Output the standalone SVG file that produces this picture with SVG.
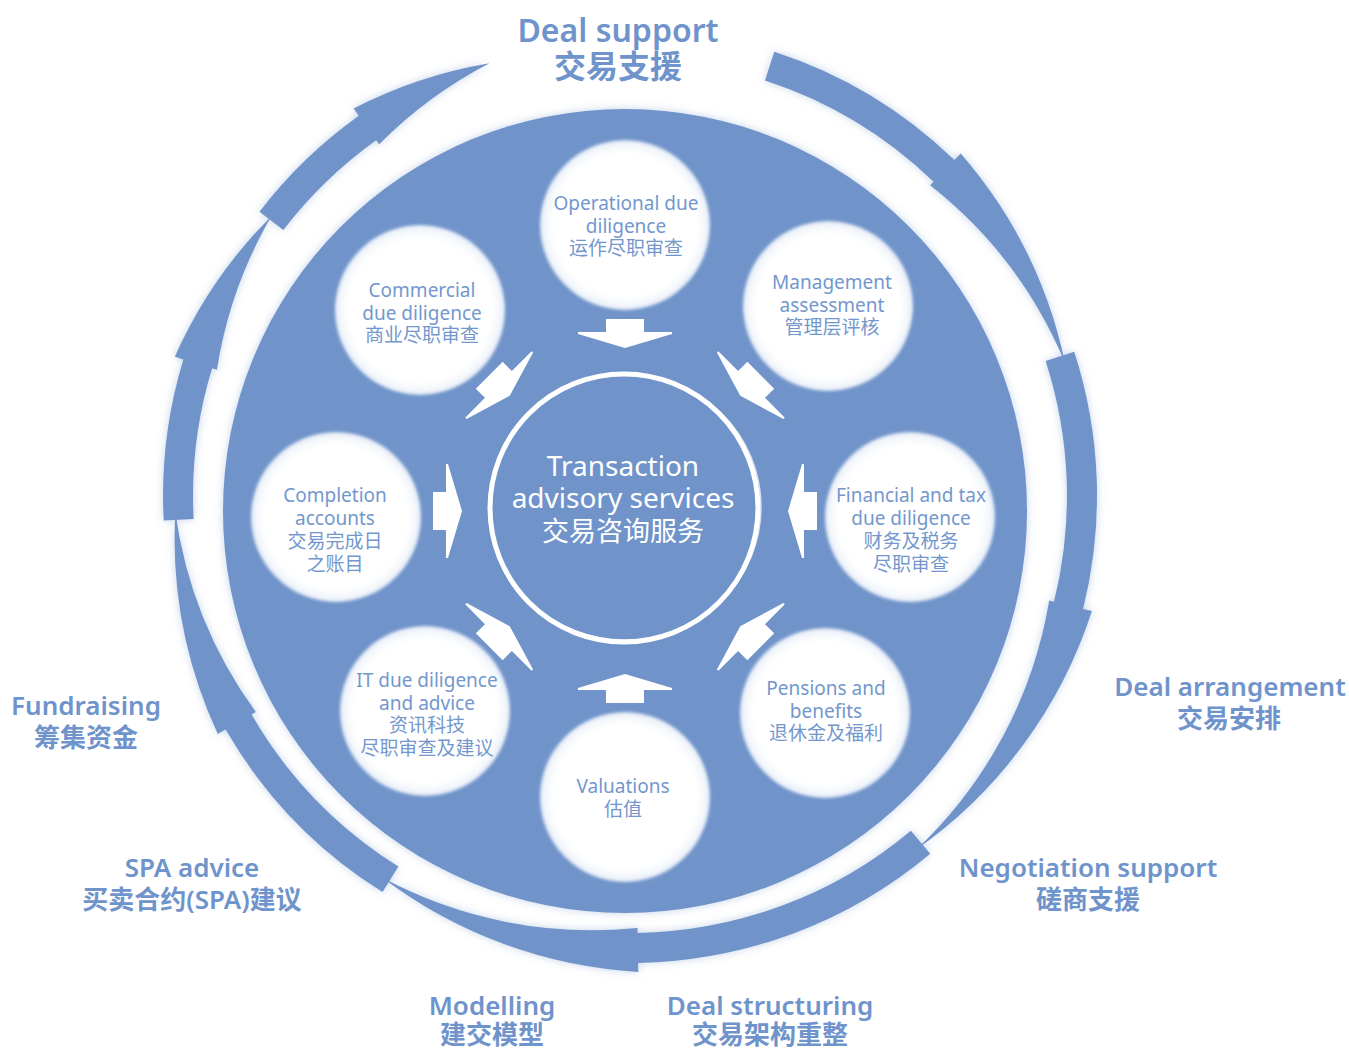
<svg xmlns="http://www.w3.org/2000/svg" width="1349" height="1052" viewBox="0 0 1349 1052">
<defs>
<style>
.lbl{font-family:"Noto Sans","Noto Sans CJK SC",sans-serif;font-weight:600;fill:#6f93cb;text-anchor:middle}
.big{font-size:32px}
.med{font-size:26px}
.nt{font-family:"Noto Sans","Noto Sans CJK SC",sans-serif;font-size:19px;fill:#7397cd;text-anchor:middle}
.ct{font-family:"Noto Sans","Noto Sans CJK SC",sans-serif;font-size:28px;fill:#ffffff;text-anchor:middle}
.blue{fill:#7094ca}
.hole{fill:url(#holeGrad)}
.ia{fill:#ffffff}
.seg{fill:#7094ca}
</style>
<radialGradient id="holeGrad">
<stop offset="0" stop-color="#ffffff"/>
<stop offset="0.84" stop-color="#ffffff"/>
<stop offset="0.95" stop-color="#f2f6fb"/>
<stop offset="1" stop-color="#dce5f4"/>
</radialGradient>
<filter id="soft" x="-10%" y="-10%" width="120%" height="120%">
<feGaussianBlur in="SourceAlpha" stdDeviation="4" result="b"/>
<feFlood flood-color="#7094ca" flood-opacity="0.4"/>
<feComposite in2="b" operator="in" result="g"/>
<feMerge><feMergeNode in="g"/><feMergeNode in="SourceGraphic"/></feMerge>
</filter>
<filter id="feather" x="-10%" y="-10%" width="120%" height="120%">
<feGaussianBlur stdDeviation="1.4"/>
</filter>
<path id="ia" d="M0 0 L14 -47 L16 -47 L16 -19 L29 -19 L29 19 L16 19 L16 47 L14 47 Z"/>
</defs>

<rect width="1349" height="1052" fill="#ffffff"/>

<g id="disk">
<circle cx="625" cy="511" r="402" class="blue" filter="url(#soft)"/>
</g>

<g id="outer-cycle" filter="url(#soft)">
<path class="seg" d="M 283.3 230.0 L 259.5 211.7 A 467 467 0 0 1 358.8 115.8 L 353.6 108.5 A 468 468 0 0 1 489.4 63.2 A 442 442 0 0 0 379.1 144.3 L 376.2 140.2 A 437 437 0 0 0 283.3 230.0 Z"/>
<path class="seg" d="M 765.0 80.4 L 774.3 51.8 A 467 467 0 0 1 954.4 160.1 L 960.7 153.6 A 468 468 0 0 1 1065.1 363.0 A 442 442 0 0 0 930.1 185.3 L 933.6 181.7 A 437 437 0 0 0 765.0 80.4 Z"/>
<path class="seg" d="M 1045.6 361.0 L 1074.2 351.7 A 467 467 0 0 1 1083.1 609.0 L 1091.9 611.1 A 468 468 0 0 1 916.3 849.6 A 442 442 0 0 0 1049.2 600.5 L 1054.0 601.7 A 437 437 0 0 0 1045.6 361.0 Z"/>
<path class="seg" d="M 910.9 830.7 L 930.2 853.7 A 467 467 0 0 1 638.1 962.9 L 638.3 971.9 A 468 468 0 0 1 382.2 877.6 A 442 442 0 0 0 637.5 927.9 L 637.6 932.9 A 437 437 0 0 0 910.9 830.7 Z"/>
<path class="seg" d="M 398.4 866.6 L 382.5 892.0 A 467 467 0 0 1 225.6 729.5 L 217.8 734.0 A 468 468 0 0 1 175.3 511.9 A 442 442 0 0 0 255.9 712.0 L 251.6 714.5 A 437 437 0 0 0 398.4 866.6 Z"/>
<path class="seg" d="M 193.6 518.9 L 163.7 520.4 A 467 467 0 0 1 183.4 359.4 L 174.8 356.8 A 468 468 0 0 1 271.5 215.9 A 442 442 0 0 0 216.9 369.7 L 212.1 368.2 A 437 437 0 0 0 193.6 518.9 Z"/>
</g>

<g id="connectors">
<use href="#ia" class="ia" transform="translate(625 511) rotate(-90) translate(163 0)"/>
<use href="#ia" class="ia" transform="translate(625 511) rotate(-45) translate(163 0)"/>
<use href="#ia" class="ia" transform="translate(625 511) rotate(0) translate(163 0)"/>
<use href="#ia" class="ia" transform="translate(625 511) rotate(45) translate(163 0)"/>
<use href="#ia" class="ia" transform="translate(625 511) rotate(90) translate(163 0)"/>
<use href="#ia" class="ia" transform="translate(625 511) rotate(135) translate(163 0)"/>
<use href="#ia" class="ia" transform="translate(625 511) rotate(180) translate(163 0)"/>
<use href="#ia" class="ia" transform="translate(625 511) rotate(-135) translate(163 0)"/>
</g>

<g id="node-center">
<circle cx="624" cy="508" r="134" fill="none" stroke="#ffffff" stroke-width="5"/>
<ellipse cx="625" cy="507" rx="136" ry="133" fill="none" stroke="#ffffff" stroke-width="1.5" opacity="0.7"/>
<text class="ct"><tspan x="623" y="476">Transaction</tspan><tspan x="623" y="508">advisory services</tspan><tspan x="623" y="541" style="font-size:27px">交易咨询服务</tspan></text>
</g>

<g id="node-operational">
<circle cx="625" cy="225" r="85" class="hole" filter="url(#feather)"/>
<text class="nt"><tspan x="626" y="210">Operational due</tspan><tspan x="626" y="233">diligence</tspan><tspan x="626" y="255">运作尽职审查</tspan></text>
</g>
<g id="node-management">
<circle cx="828" cy="306" r="85" class="hole" filter="url(#feather)"/>
<text class="nt"><tspan x="832" y="289">Management</tspan><tspan x="832" y="312">assessment</tspan><tspan x="832" y="334">管理层评核</tspan></text>
</g>
<g id="node-commercial">
<circle cx="420" cy="310" r="85" class="hole" filter="url(#feather)"/>
<text class="nt"><tspan x="422" y="297">Commercial</tspan><tspan x="422" y="320">due diligence</tspan><tspan x="422" y="342">商业尽职审查</tspan></text>
</g>
<g id="node-completion">
<circle cx="336" cy="517" r="85" class="hole" filter="url(#feather)"/>
<text class="nt"><tspan x="335" y="502">Completion</tspan><tspan x="335" y="525">accounts</tspan><tspan x="335" y="548">交易完成日</tspan><tspan x="335" y="571">之账目</tspan></text>
</g>
<g id="node-financial">
<circle cx="910" cy="517" r="85" class="hole" filter="url(#feather)"/>
<text class="nt"><tspan x="911" y="502">Financial and tax</tspan><tspan x="911" y="525">due diligence</tspan><tspan x="911" y="548">财务及税务</tspan><tspan x="911" y="571">尽职审查</tspan></text>
</g>
<g id="node-it">
<circle cx="425" cy="711" r="85" class="hole" filter="url(#feather)"/>
<text class="nt"><tspan x="427" y="687">IT due diligence</tspan><tspan x="427" y="710">and advice</tspan><tspan x="427" y="732">资讯科技</tspan><tspan x="427" y="755">尽职审查及建议</tspan></text>
</g>
<g id="node-pensions">
<circle cx="825" cy="713" r="85" class="hole" filter="url(#feather)"/>
<text class="nt"><tspan x="826" y="695">Pensions and</tspan><tspan x="826" y="718">benefits</tspan><tspan x="826" y="740">退休金及福利</tspan></text>
</g>
<g id="node-valuations">
<circle cx="625" cy="797" r="85" class="hole" filter="url(#feather)"/>
<text class="nt"><tspan x="623" y="793">Valuations</tspan><tspan x="623" y="816">估值</tspan></text>
</g>

<g id="label-deal-support">
<text class="lbl big"><tspan x="618" y="42">Deal support</tspan><tspan x="618" y="78">交易支援</tspan></text>
</g>
<g id="label-deal-arrangement">
<text class="lbl med"><tspan x="1230" y="696">Deal arrangement</tspan><tspan x="1229" y="728">交易安排</tspan></text>
</g>
<g id="label-negotiation">
<text class="lbl med"><tspan x="1088" y="877">Negotiation support</tspan><tspan x="1088" y="909">磋商支援</tspan></text>
</g>
<g id="label-deal-structuring">
<text class="lbl med"><tspan x="770" y="1015">Deal structuring</tspan><tspan x="770" y="1044">交易架构重整</tspan></text>
</g>
<g id="label-modelling">
<text class="lbl med"><tspan x="492" y="1015">Modelling</tspan><tspan x="492" y="1044">建交模型</tspan></text>
</g>
<g id="label-spa">
<text class="lbl med"><tspan x="192" y="877">SPA advice</tspan><tspan x="192" y="909">买卖合约(SPA)建议</tspan></text>
</g>
<g id="label-fundraising">
<text class="lbl med"><tspan x="86" y="715">Fundraising</tspan><tspan x="86" y="747">筹集资金</tspan></text>
</g>
</svg>
